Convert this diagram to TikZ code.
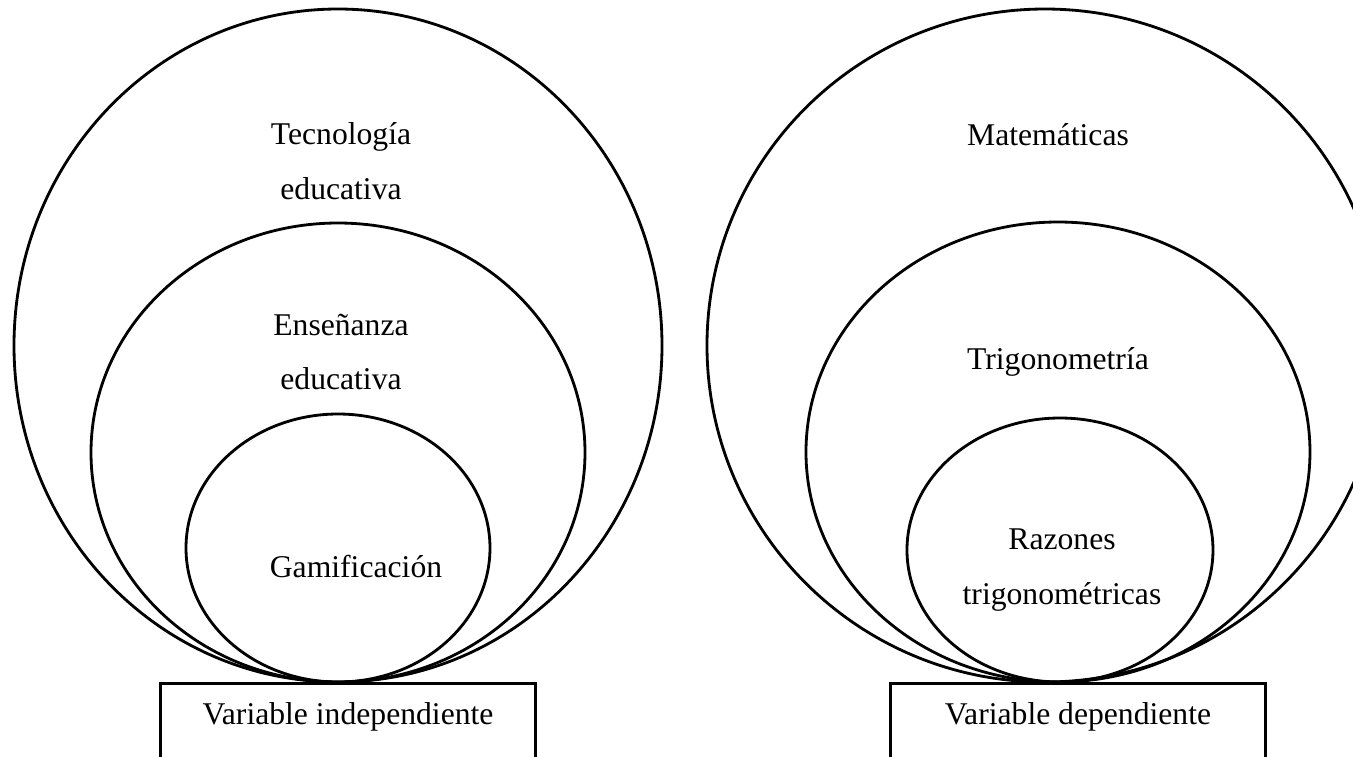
\documentclass[tikz,border=0pt]{standalone}
\usepackage{fontspec}
\setmainfont{Liberation Serif}
\begin{document}
\begin{tikzpicture}[x=0.01cm, y=-0.01cm, line width=0.8pt]

        \tikzset{
          settext/.style={align=center, inner sep=0pt, font=\fontsize{9}{15.6}\selectfont},
          varbox/.style={draw, anchor=north, minimum width=3.74cm, inner xsep=0pt, inner ysep=0pt,
                         text height=0.41cm, text depth=0.34cm, font=\fontsize{9}{11}\selectfont}
        }

        % Fix the page size
        \useasboundingbox (0,0) rectangle (1353,757);

        % Left set (independent variable)
        \draw (338,345.5) ellipse (324 and 336.5);
        \draw (338,452.5) ellipse (247 and 229.5);
        \draw (338,548) ellipse (152 and 134);

        \node[settext] (tecno) at (341,161) {Tecnología\\educativa};
        \node[settext] (ensen) at (341,352) {Enseñanza\\educativa};
        \node[settext] (gamif) at (356,567) {Gamificación};

        % Right set (dependent variable)
        \draw (1045,345.5) ellipse (338 and 336.5);
        \draw (1058,452) ellipse (252 and 230);
        \draw (1060,550) ellipse (153 and 132);

        \node[settext] (mate) at (1048,135) {Matemáticas};
        \node[settext] (trigo) at (1058,362) {Trigonometría};
        \node[settext] (razon) at (1062,570) {Razones\\trigonométricas};

        % Variable boxes
        \node[varbox] (vind) at (348,682) {Variable independiente};
        \node[varbox] (vdep) at (1078,682) {Variable dependiente};

      \end{tikzpicture}
\end{document}
